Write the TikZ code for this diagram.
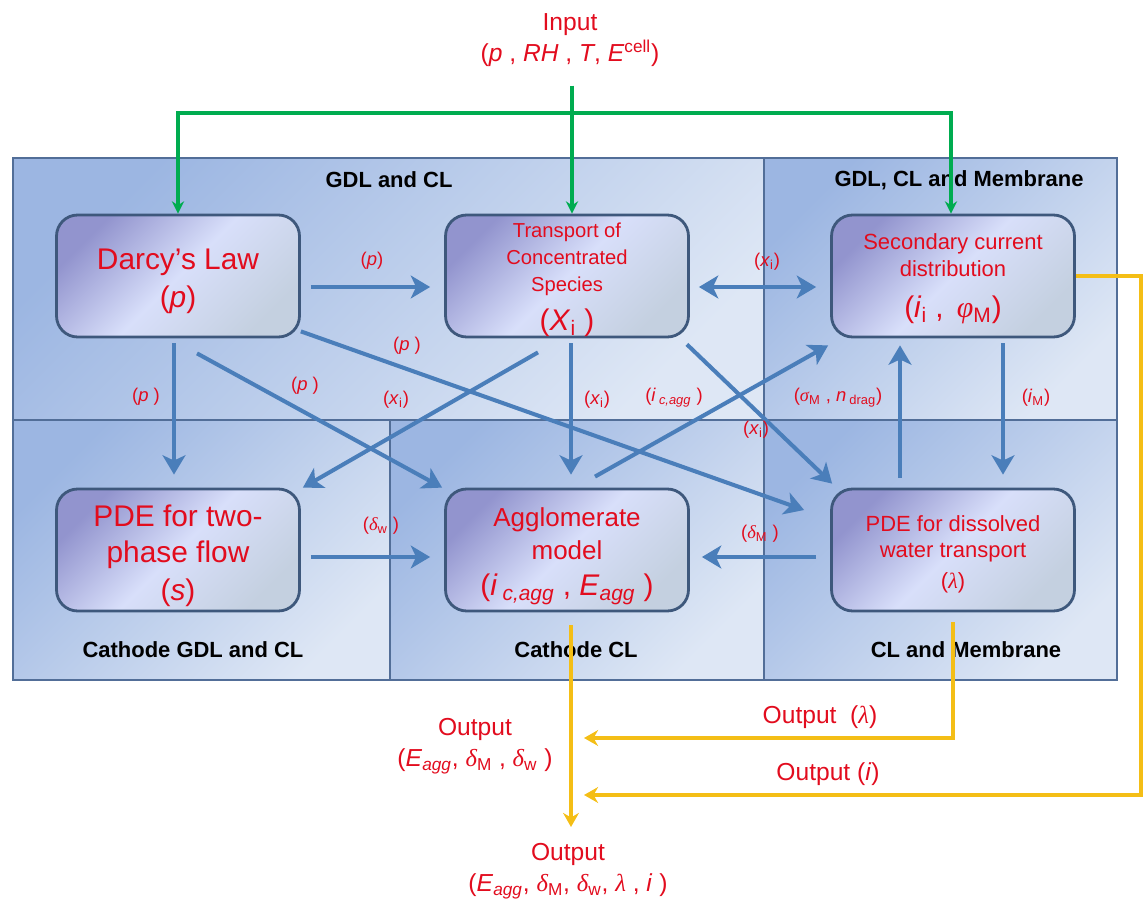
\documentclass[tikz,border=0pt]{standalone}
\usepackage{fontspec}
\setmainfont{Liberation Sans}
\newfontfamily\grk{Liberation Serif}
\usetikzlibrary{arrows.meta}
\definecolor{txtred}{RGB}{226,12,30}
\definecolor{flowblue}{RGB}{74,126,186}
\definecolor{ingreen}{RGB}{0,172,80}
\definecolor{outyellow}{RGB}{244,190,22}
\definecolor{frameblue}{RGB}{82,110,152}
\definecolor{boxline}{RGB}{62,88,124}
\definecolor{boxdark}{RGB}{146,148,206}
\definecolor{boxlight}{RGB}{216,223,250}
\definecolor{boxgloss}{RGB}{196,208,224}
\definecolor{panela}{RGB}{156,182,226}
\definecolor{panelb}{RGB}{222,231,245}
\newcommand{\gk}[1]{{\grk\itshape #1}}
\newcommand{\fsz}[2]{\fontsize{#1}{#2}\selectfont}

\begin{document}
\begin{tikzpicture}[x=0.02cm,y=-0.02cm,
	model/.style={draw=boxline,line width=1.6pt,rounded corners=12pt,minimum width=4.86cm,minimum height=2.44cm,
		top color=boxdark,bottom color=boxgloss,middle color=boxlight,shading angle=45,inner sep=0pt},
	modeltext/.style={text=txtred,align=center,inner sep=0pt},
	flow/.style={flowblue,line width=2.3pt,-{Stealth[length=11pt,width=13pt,inset=3pt]}},
	inflow/.style={ingreen,line width=1.8pt,-{Stealth[length=7pt,width=7pt]}},
	outflow/.style={outyellow,line width=2pt,-{Stealth[length=8pt,width=9pt]}},
	var/.style={text=txtred,font=\fsz{10.5}{12}},
	region/.style={font=\bfseries\fsz{12.5}{14}},
	io/.style={text=txtred,align=center,font=\fsz{14}{17.5}},
	panel/.style={top color=panela,bottom color=panelb,shading angle=45}]
	\useasboundingbox (0,0) rectangle (1146,902);

	\shade[panel] (13,158) rectangle (764,420);
	\shade[panel] (764,158) rectangle (1117,420);
	\shade[panel] (13,420) rectangle (390,680);
	\shade[panel] (390,420) rectangle (764,680);
	\shade[panel] (764,420) rectangle (1117,680);
	\draw[frameblue,line width=0.8pt] (13,158) rectangle (1117,680) (13,420) -- (1117,420)
		(764,158) -- (764,680) (390,420) -- (390,680);

	\node[region] at (389,180)(gdlcl){GDL and CL};
	\node[region] at (959,180)(gdlclmem){GDL, CL and Membrane};
	\node[region] at (193,650)(cathgdl){Cathode GDL and CL};
	\node[region] at (576,650)(cathcl){Cathode CL};
	\node[region] at (966,650)(clmem){CL and Membrane};

	\node[model] at (178,276)(darcy){};
	\node[model] at (567,276)(transport){};
	\node[model] at (953,276)(secondary){};
	\node[model] at (178,550)(twophase){};
	\node[model] at (567,550)(agglo){};
	\node[model] at (953,550)(dissolved){};
	\node[modeltext,font=\fsz{17}{21.5}] at ([shift={(0,5)}]darcy.center)(darcytxt){Darcy's Law\\(\textit{p})};
	\node[modeltext,font=\fsz{11.5}{15.3}] at ([shift={(0,4)}]transport.center)(transporttxt){Transport of\\Concentrated\\Species\\[7pt]{\fsz{17}{20}(\textit{X}\textsubscript{i} )}};
	\node[modeltext,font=\fsz{12.5}{15.3}] at ([shift={(0,3)}]secondary.center)(secondarytxt){Secondary current\\distribution\\[8pt]{\fsz{17}{20}(\textit{i}\textsubscript{i} ,\, \gk{φ}\textsubscript{M})}};
	\node[modeltext,font=\fsz{17}{20.5}] at ([shift={(0,6)}]twophase.center)(twophasetxt){PDE for two-\\phase flow\\[1pt](\textit{s})};
	\node[modeltext,font=\fsz{14.8}{18.7}] at ([shift={(0,6)}]agglo.center)(agglotxt){Agglomerate\\model\\[2pt]{\fsz{17}{20}(\textit{i}\,\textsubscript{\textit{c,agg}} , \textit{E}\textsubscript{\textit{agg}} )}};
	\node[modeltext,font=\fsz{12.5}{15.3}] at ([shift={(0,4)}]dissolved.center)(dissolvedtxt){PDE for dissolved\\water transport\\[2pt](\gk{λ})};

	\path[flow]([shift={(10,11)}]darcy.east)edge([shift={(-14,11)}]transport.west)
		([shift={(-4,5)}]darcy.south)edge([shift={(-4,-13)}]twophase.north)
		([shift={(19,15)}]darcy.south)edge([shift={(-2,0)}]agglo.north west)
		([shift={(0,-7)}]darcy.south east)edge([shift={(-26,-40)}]dissolved.west)
		([shift={(-29,14)}]transport.south)edge([shift={(2,0)}]twophase.north east)
		([shift={(4,5)}]transport.south)edge([shift={(4,-13)}]agglo.north)
		([shift={(-3,6)}]transport.south east)edge([shift={(2,-4)}]dissolved.north west)
		([shift={(28,-11)}]agglo.north)edge([shift={(-2,7)}]secondary.south west)
		([shift={(-53,-10)}]dissolved.north)edge([shift={(-53,7)}]secondary.south)
		([shift={(50,5)}]secondary.south)edge([shift={(50,-13)}]dissolved.north)
		([shift={(10,7)}]twophase.east)edge([shift={(-14,7)}]agglo.west)
		([shift={(-14,7)}]dissolved.west)edge([shift={(12,7)}]agglo.east);
	\draw[flow,{Stealth[length=11pt,width=13pt,inset=3pt]}-{Stealth[length=11pt,width=13pt,inset=3pt]}]
		([shift={(9,11)}]transport.east)--([shift={(-14,11)}]secondary.west);

	\node[var] at (372,261)(pa){(\textit{p})};
	\node[var] at (767,262)(xa){(\textit{x}\textsubscript{i})};
	\node[var] at (146,397)(pb){(\textit{p} )};
	\node[var] at (305,386)(pc){(\textit{p} )};
	\node[var] at (407,346)(pd){(\textit{p} )};
	\node[var] at (396,400)(xb){(\textit{x}\textsubscript{i})};
	\node[var] at (597,400)(xc){(\textit{x}\textsubscript{i})};
	\node[var] at (674,398)(icagg){(\textit{i}\,\textsubscript{\textit{c,agg}} )};
	\node[var] at (838,398)(sigdrag){(\gk{σ}\textsubscript{M} , \textit{n}\,\textsubscript{drag})};
	\node[var] at (1036,398)(im){(\textit{i}\textsubscript{M})};
	\node[var] at (756,430)(xd){(\textit{x}\textsubscript{i})};
	\node[var] at (381,526)(dw){(\gk{δ}\textsubscript{w} )};
	\node[var] at (760,534)(dm){(\gk{δ}\textsubscript{M} )};

	\node[io] at (570,40)(input){Input\\(\textit{p} , \textit{RH} , \textit{T}, \textit{E}\textsuperscript{cell})};
	\coordinate (split) at (572,113);
	\draw[inflow]([shift={(2,13)}]input.south)--([shift={(5,0)}]transport.north);
	\draw[inflow](split)-|(darcy.north);
	\draw[inflow](split)-|([shift={(-2,0)}]secondary.north);

	\node[io] at (475,746)(outcl){Output\\(\textit{E}\textsubscript{\textit{agg}}, \gk{δ}\textsubscript{M} , \gk{δ}\textsubscript{w} )};
	\node[io] at (820,717)(outlam){Output~ (\gk{λ})};
	\node[io] at (828,774)(outi){Output (\textit{i})};
	\node[io] at (568,871)(output){Output\\(\textit{E}\textsubscript{\textit{agg}}, \gk{δ}\textsubscript{M}, \gk{δ}\textsubscript{w}, \gk{λ} , \textit{i} )};
	\coordinate (lamtip) at (584,738);
	\coordinate (itip) at (584,795);
	\draw[outflow]([shift={(4,13)}]agglo.south)--([shift={(3,-44)}]output.center);
	\draw[outflow]([shift={(0,10)}]dissolved.south)|-(lamtip);
	\draw[outflow](secondary.east)--++(65,0)|-(itip);
\end{tikzpicture}
\end{document}
